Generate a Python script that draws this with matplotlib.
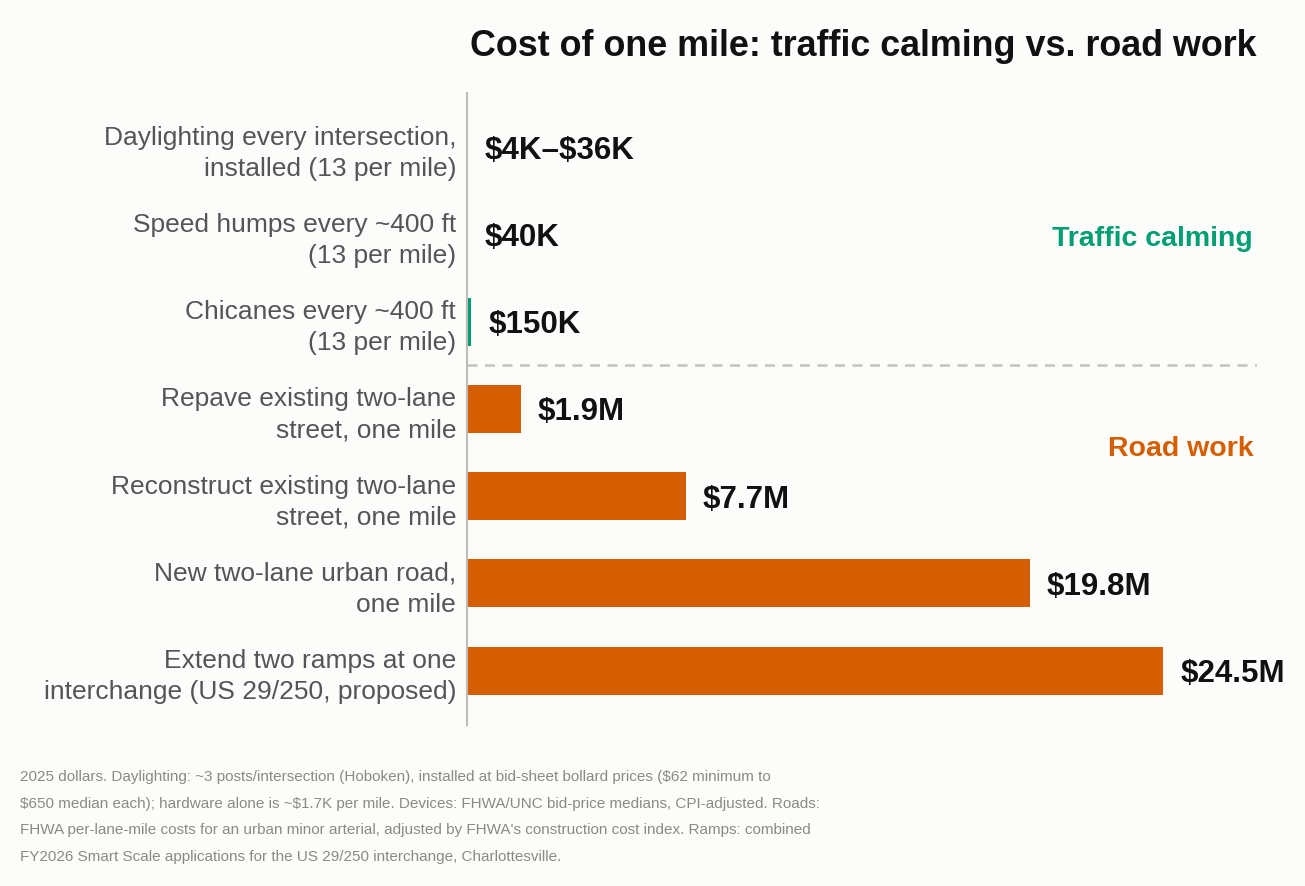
import matplotlib
matplotlib.use("Agg")
import matplotlib.pyplot as plt

categories = [
    "Daylighting every intersection,\ninstalled (13 per mile)",
    "Speed humps every ~400 ft\n(13 per mile)",
    "Chicanes every ~400 ft\n(13 per mile)",
    "Repave existing two-lane\nstreet, one mile",
    "Reconstruct existing two-lane\nstreet, one mile",
    "New two-lane urban road,\none mile",
    "Extend two ramps at one\ninterchange (US 29/250, proposed)",
]
values_musd = [0.036, 0.040, 0.150, 1.9, 7.7, 19.8, 24.5]
value_labels = ["$4K–$36K", "$40K", "$150K", "$1.9M", "$7.7M", "$19.8M", "$24.5M"]
groups = ["calm", "calm", "calm", "road", "road", "road", "road"]

GREEN = "#009E73"
ORANGE = "#D55E00"
BG = "#FCFCFA"
plt.rcParams['font.family'] = ['Liberation Sans', 'DejaVu Sans']
plt.rcParams['text.parse_math'] = False

fig = plt.figure(figsize=(13.05, 8.86), dpi=100, facecolor=BG)
ax = fig.add_axes([0.358, 0.182, 0.605, 0.713], facecolor=BG)

ypos = list(range(len(categories)))
colors = [GREEN if g == "calm" else ORANGE for g in groups]
ax.barh(ypos, values_musd, height=0.55, color=colors)

ax.set_xlim(0, 27.78)
ax.set_ylim(6.62, -0.62)

for y, v, lab in zip(ypos, values_musd, value_labels):
    ax.annotate(lab, (v, y), xytext=(12, -2.5), textcoords="offset points",
                va="center", ha="left", fontsize=22.5, fontweight="bold", color="#111111")

ax.set_yticks(ypos)
ax.set_yticklabels(categories, fontsize=19, color="#555555", linespacing=1.38)
ax.tick_params(axis="y", length=0, pad=8)
ax.set_xticks([])
for s in ["top", "right", "bottom"]:
    ax.spines[s].set_visible(False)
ax.spines["left"].set_color("#BDBDB5")
ax.spines["left"].set_linewidth(1.5)

ax.axhline(2.5, color="#C4C4BC", linestyle=(0, (4, 3)), linewidth=1.8)

ax.text(0.9955, 1.05, "Traffic calming", transform=ax.get_yaxis_transform(),
        ha="right", va="center", fontsize=20.5, fontweight="bold", color=GREEN)
ax.text(0.9955, 3.46, "Road work", transform=ax.get_yaxis_transform(),
        ha="right", va="center", fontsize=20.5, fontweight="bold", color=ORANGE)

fig.text(0.963, 0.948, "Cost of one mile: traffic calming vs. road work",
         ha="right", va="center", fontsize=25.8, fontweight="bold", color="#111111")

footnote = ("2025 dollars. Daylighting: ~3 posts/intersection (Hoboken), installed at bid-sheet bollard prices ($62 minimum to\n"
            "$650 median each); hardware alone is ~$1.7K per mile. Devices: FHWA/UNC bid-price medians, CPI-adjusted. Roads:\n"
            "FHWA per-lane-mile costs for an urban minor arterial, adjusted by FHWA's construction cost index. Ramps: combined\n"
            "FY2026 Smart Scale applications for the US 29/250 interchange, Charlottesville.")
fig.text(0.0155, 0.131, footnote, ha="left", va="top", fontsize=11,
         color="#8A8A85", linespacing=2.15)

fig.savefig("out.png", dpi=100, facecolor=BG)
